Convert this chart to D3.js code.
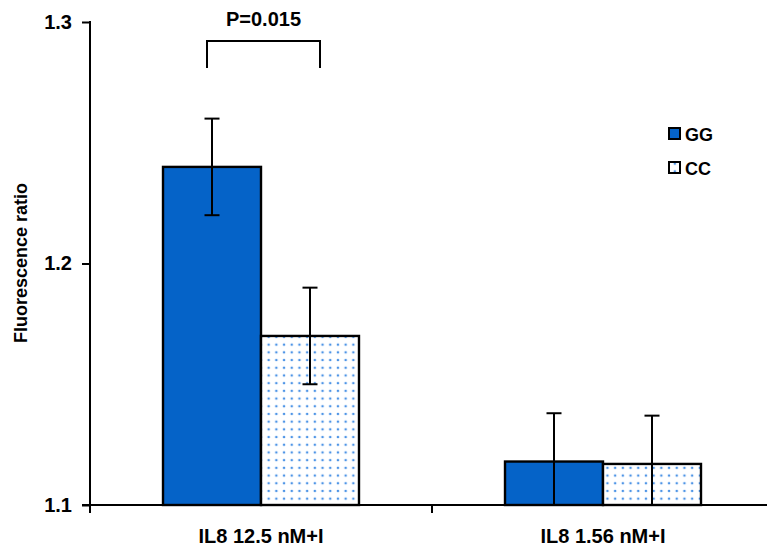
<!DOCTYPE html>
<html><head><meta charset="utf-8">
<script src="https://cdn.jsdelivr.net/npm/d3@7"></script>
<style>body{margin:0;background:#fff}svg{display:block}text{font-family:"Liberation Sans",Arial,sans-serif;font-weight:bold}</style>
</head><body><svg id="c" width="767" height="550"></svg>
<script>
const categories = ["IL8 12.5 nM+I", "IL8 1.56 nM+I"];
const seriesNames = ["GG", "CC"];
const ggValues = [1.24, 1.118];
const ccValues = [1.17, 1.117];
const ggErrors = [0.02, 0.02];
const ccErrors = [0.02, 0.02];
const yTicks = [1.1, 1.2, 1.3];
const pLabel = "P=0.015";

const svg = d3.select("#c");
const x0 = 90, y0 = 505, catW = 342;
const x = d3.scaleBand().domain(categories).range([x0, x0 + catW * 2]).paddingInner(0).paddingOuter(0);
const xs = d3.scaleBand().domain(seriesNames).range([0, x.bandwidth()]).paddingInner(0).paddingOuter(0.745);
const y = d3.scaleLinear().domain([1.1, 1.3]).range([y0, 22]);

const defs = svg.append("defs");
const pat = defs.append("pattern").attr("id", "dots").attr("patternUnits", "userSpaceOnUse")
  .attr("width", 7.7).attr("height", 7.7).attr("x", 3).attr("y", 2);
pat.append("rect").attr("width", 7.7).attr("height", 7.7).attr("fill", "#fff");
pat.append("circle").attr("cx", 3.85).attr("cy", 3.85).attr("r", 1.3).attr("fill", "#4d94e6");
defs.append("clipPath").attr("id", "plotclip").append("rect").attr("x", 0).attr("y", 0).attr("width", 767).attr("height", y0);

const blue = "#0563C8";
const data = categories.map((c, i) => [
  {cat: c, s: "GG", v: ggValues[i], e: ggErrors[i]},
  {cat: c, s: "CC", v: ccValues[i], e: ccErrors[i]}
]).flat();

const g = svg.append("g");
g.selectAll("rect.bar").data(data).join("rect").attr("class", "bar")
  .attr("x", d => x(d.cat) + xs(d.s))
  .attr("width", xs.bandwidth())
  .attr("y", d => y(d.v))
  .attr("height", d => y0 - y(d.v))
  .attr("fill", d => d.s === "GG" ? blue : "url(#dots)")
  .attr("stroke", "#000").attr("stroke-width", 2.4);

// error bars
const eg = svg.append("g").attr("clip-path", "url(#plotclip)");
const cx = d => x(d.cat) + xs(d.s) + xs.bandwidth() / 2;
eg.selectAll("line.eb").data(data).join("line")
  .attr("x1", cx).attr("x2", cx)
  .attr("y1", d => y(d.v - d.e)).attr("y2", d => y(d.v + d.e))
  .attr("stroke", "#000").attr("stroke-width", 2);
[-1, 1].forEach(sgn => {
  eg.selectAll("line.cap" + (sgn > 0 ? "u" : "d")).data(data).join("line")
    .attr("class", "cap" + (sgn > 0 ? "u" : "d"))
    .attr("x1", d => cx(d) - 7.5).attr("x2", d => cx(d) + 7.5)
    .attr("y1", d => y(d.v + sgn * d.e)).attr("y2", d => y(d.v + sgn * d.e))
    .attr("stroke", "#000").attr("stroke-width", 2);
});

// axes
const yAxis = d3.axisLeft(y).tickValues(yTicks).tickFormat(d3.format(".1f")).tickSize(8).tickPadding(10);
const ya = svg.append("g").attr("transform", `translate(${x0},0)`).call(yAxis);
ya.select(".domain").remove();
ya.selectAll("line").attr("stroke", "#000").attr("stroke-width", 2);
ya.selectAll("text").attr("font-size", 20).attr("fill", "#000").style("font-family", "Liberation Sans, Arial, sans-serif").style("font-weight", "bold");
svg.append("line").attr("x1", x0).attr("x2", x0).attr("y1", y(1.3) - 1).attr("y2", y0 + 8).attr("stroke", "#000").attr("stroke-width", 2);
svg.append("line").attr("x1", x0 - 8).attr("x2", 767).attr("y1", y0).attr("y2", y0).attr("stroke", "#000").attr("stroke-width", 2);
// category separators
svg.selectAll("line.ct").data(categories.slice(1)).join("line")
  .attr("x1", d => x(d)).attr("x2", d => x(d)).attr("y1", y0).attr("y2", y0 + 8)
  .attr("stroke", "#000").attr("stroke-width", 2);
svg.selectAll("text.xl").data(categories).join("text")
  .attr("x", d => x(d) + x.bandwidth() / 2).attr("y", 543)
  .attr("text-anchor", "middle").attr("font-size", 20).text(d => d);

svg.append("text").attr("transform", "translate(27,263) rotate(-90)")
  .attr("text-anchor", "middle").attr("font-size", 18).text("Fluorescence ratio");

// significance bracket
const gc = x(categories[0]) + x.bandwidth() / 2;
const b1 = gc - 54, b2 = gc + 59;
svg.append("path").attr("d", `M${b1},68V41H${b2}V68`).attr("fill", "none").attr("stroke", "#000").attr("stroke-width", 2);
svg.append("text").attr("x", (b1 + b2) / 2).attr("y", 26).attr("text-anchor", "middle").attr("font-size", 20).text(pLabel);

// legend
const lg = svg.append("g").attr("transform", "translate(668,127)");
seriesNames.forEach((s, i) => {
  lg.append("rect").attr("x", 1).attr("y", i * 34 + 1).attr("width", 11).attr("height", 11)
    .attr("fill", s === "GG" ? blue : "url(#dots)").attr("stroke", "#000").attr("stroke-width", 2);
  lg.append("text").attr("x", 17).attr("y", i * 34 + 14).attr("font-size", 18).text(s);
});
</script></body></html>
